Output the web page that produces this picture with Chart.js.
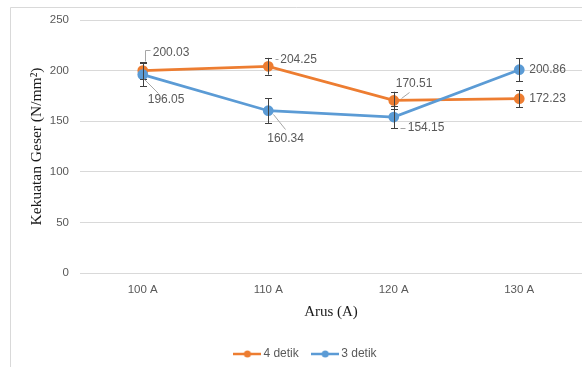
<!DOCTYPE html>
<html>
<head>
<meta charset="utf-8">
<script src="https://cdn.jsdelivr.net/npm/chart.js@4"></script>
<style>
  html, body { margin: 0; padding: 0; background: #fff; }
  canvas { display: block; }
</style>
</head>
<body>
<canvas id="chart" width="582" height="367"></canvas>
<script>
// Shear strength (N/mm²) against welding current, for two weld times
const categories = ['100 A', '110 A', '120 A', '130 A'];
const seriesNames = ['4 detik', '3 detik'];
const values4s = [200.03, 204.25, 170.51, 172.23];
const values3s = [196.05, 160.34, 154.15, 200.86];
const err4s = [8.3, 8.3, 8.6, 8.4];
const err3s = [11.5, 12.1, 11.3, 11.6];
const yTicks = [0, 50, 100, 150, 200, 250];

const colors = ['#ED7D31', '#5B9BD5'];
const textGrey = '#595959';

// Value label placement relative to each point (pixels), with optional leader line
const labelPlacement = [
  [
    { dx: 10, dy: -18, leader: [[2, -10], [2, -21], [7, -21]] },
    { dx: 12, dy: -7, leader: [[7, -7], [10, -7]] },
    { dx: 2, dy: -17, leader: [[7, -2], [15, -8]] },
    { dx: 10, dy: 0, leader: null }
  ],
  [
    { dx: 5, dy: 25, leader: [[1, 4], [15, 18]] },
    { dx: -1, dy: 28, leader: [[5, 3], [17, 18]] },
    { dx: 14, dy: 11, leader: [[6, 11], [11, 11]] },
    { dx: 10, dy: 0, leader: null }
  ]
];

// Legend icons: short line with a dot in the middle
function makeLegendIcon(color) {
  const c = document.createElement('canvas');
  c.width = 28; c.height = 10;
  const g = c.getContext('2d');
  g.strokeStyle = color; g.lineWidth = 2.5;
  g.beginPath(); g.moveTo(0, 5); g.lineTo(28, 5); g.stroke();
  g.fillStyle = color;
  g.beginPath(); g.arc(14, 5, 3.5, 0, Math.PI * 2); g.fill();
  return c;
}
const legendIcons = colors.map(makeLegendIcon);

const frame = {
  id: 'frame',
  beforeDraw(chart) {
    const ctx = chart.ctx;
    ctx.save();
    ctx.fillStyle = '#fff';
    ctx.fillRect(0, 0, chart.width, chart.height);
    ctx.strokeStyle = '#D9D9D9';
    ctx.lineWidth = 1;
    ctx.beginPath();
    ctx.moveTo(10.5, chart.height);
    ctx.lineTo(10.5, 7.5);
    ctx.lineTo(chart.width, 7.5);
    ctx.stroke();
    ctx.restore();
  },
  afterLayout(chart) {
    // centre the legend on the full frame width
    const lg = chart.legend;
    lg.left += 11; lg.right += 11;
  }
};

const errorBarsAndLabels = {
  id: 'errorBarsAndLabels',
  afterDatasetsDraw(chart) {
    const ctx = chart.ctx;
    const x = chart.scales.x, y = chart.scales.y;
    const errs = [err4s, err3s];
    ctx.save();
    // error bars
    ctx.strokeStyle = '#404040';
    ctx.lineWidth = 1;
    chart.data.datasets.forEach((ds, di) => {
      ds.data.forEach((v, i) => {
        const px = Math.round(x.getPixelForValue(i)) + 0.5;
        const yt = y.getPixelForValue(v + errs[di][i]);
        const yb = y.getPixelForValue(v - errs[di][i]);
        ctx.beginPath();
        ctx.moveTo(px, yt); ctx.lineTo(px, yb);
        ctx.moveTo(px - 3.5, Math.round(yt) + 0.5); ctx.lineTo(px + 3.5, Math.round(yt) + 0.5);
        ctx.moveTo(px - 3.5, Math.round(yb) + 0.5); ctx.lineTo(px + 3.5, Math.round(yb) + 0.5);
        ctx.stroke();
      });
    });
    // value labels with leader lines
    ctx.font = '12px "Liberation Sans", Arial, sans-serif';
    ctx.textBaseline = 'middle';
    ctx.textAlign = 'left';
    chart.data.datasets.forEach((ds, di) => {
      ds.data.forEach((v, i) => {
        const px = x.getPixelForValue(i);
        const py = y.getPixelForValue(v);
        const p = labelPlacement[di][i];
        if (p.leader) {
          ctx.strokeStyle = '#A6A6A6';
          ctx.lineWidth = 1;
          ctx.beginPath();
          p.leader.forEach(([lx, ly], k) => {
            const X = Math.round(px + lx) + 0.5, Y = Math.round(py + ly) + 0.5;
            if (k === 0) ctx.moveTo(X, Y); else ctx.lineTo(X, Y);
          });
          ctx.stroke();
        }
        ctx.fillStyle = textGrey;
        ctx.fillText(v.toFixed(2), px + p.dx, py + p.dy);
      });
    });
    ctx.restore();
  }
};

new Chart(document.getElementById('chart'), {
  type: 'line',
  data: {
    labels: categories,
    datasets: [
      {
        label: seriesNames[0], data: values4s, order: 1,
        borderColor: colors[0], backgroundColor: colors[0],
        borderWidth: 2.75, pointRadius: 4, pointHoverRadius: 4,
        pointBackgroundColor: colors[0], pointBorderColor: colors[0], tension: 0
      },
      {
        label: seriesNames[1], data: values3s, order: 0,
        borderColor: colors[1], backgroundColor: colors[1],
        borderWidth: 2.75, pointRadius: 4, pointHoverRadius: 4,
        pointBackgroundColor: colors[1], pointBorderColor: colors[1], tension: 0
      }
    ]
  },
  options: {
    responsive: false,
    animation: false,
    devicePixelRatio: 1,
    layout: { autoPadding: false, padding: { left: 10, top: 20, right: 0, bottom: -3 } },
    plugins: {
      tooltip: { enabled: false },
      legend: {
        position: 'bottom',
        labels: {
          usePointStyle: true,
          pointStyleWidth: 20,
          boxHeight: 10,
          padding: 16.5,
          color: textGrey,
          font: { family: '"Liberation Sans", Arial, sans-serif', size: 12 },
          sort: (a, b) => a.datasetIndex - b.datasetIndex,
          generateLabels(chart) {
            const items = Chart.defaults.plugins.legend.labels.generateLabels(chart);
            items.forEach(it => { it.pointStyle = legendIcons[it.datasetIndex]; });
            return items;
          }
        }
      }
    },
    scales: {
      x: {
        offset: true,
        grid: { display: false, drawTicks: false },
        border: { display: false },
        ticks: {
          color: textGrey, padding: 10,
          font: { family: '"Liberation Sans", Arial, sans-serif', size: 11.5 }
        },
        title: {
          display: true, text: 'Arus (A)', color: '#1a1a1a',
          font: { family: '"Liberation Serif", "Times New Roman", serif', size: 15 },
          padding: { top: 0, bottom: 10.5 }
        },
        afterFit(scale) {
          scale.height = 58.5;
          scale.paddingLeft = 0;
          scale.paddingRight = 0;
        }
      },
      y: {
        min: yTicks[0], max: yTicks[yTicks.length - 1],
        afterBuildTicks(scale) { scale.ticks = yTicks.map(v => ({ value: v })); },
        grid: { color: '#D9D9D9', lineWidth: 1, drawTicks: false },
        border: { display: false },
        ticks: {
          color: textGrey, padding: 11,
          font: { family: '"Liberation Sans", Arial, sans-serif', size: 11.5 }
        },
        title: {
          display: true, text: 'Kekuatan Geser (N/mm²)', color: '#1a1a1a',
          font: { family: '"Liberation Serif", "Times New Roman", serif', size: 15.5 },
          padding: { top: 18, bottom: 0 }
        },
        afterFit(scale) { scale.width = 70; }
      }
    }
  },
  plugins: [frame, errorBarsAndLabels]
});
</script>
</body>
</html>
